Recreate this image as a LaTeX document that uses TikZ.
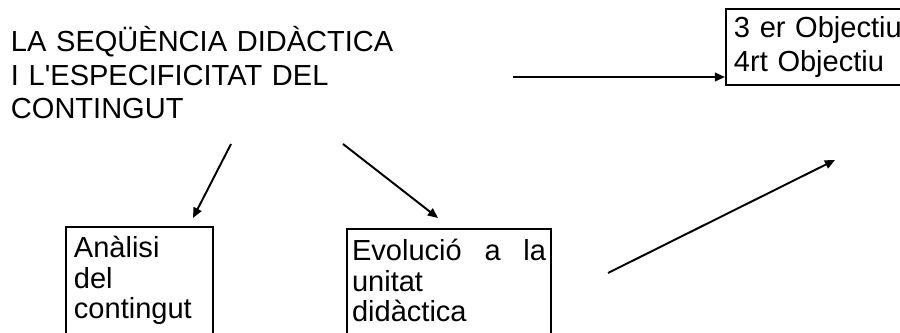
\documentclass[tikz,border=0pt]{standalone}
\usepackage{fontspec}
\newfontfamily\arial{Liberation Sans}
\usetikzlibrary{arrows.meta}
\begin{document}
\begin{tikzpicture}[>={Triangle[length=4.2pt,width=3.6pt]},x=0.41333pt,y=-0.41333pt,line width=0.8pt,
	caixa/.style={draw,anchor=base west,align=left,inner ysep=0pt},
	font=\arial\fontsize{12}{12.5}\selectfont]
	\useasboundingbox (0,0) rectangle (900,333);
	\clip (0,0) rectangle (900,333);
	\node[anchor=base west,align=left,inner sep=0pt,text width=165pt,font=\arial\fontsize{12}{13.8}\selectfont] (tema) at (10,52)
		{LA SEQÜÈNCIA DIDÀCTICA\\I L'ESPECIFICITAT DEL\\CONTINGUT};
	\node[caixa,text width=54.1pt,inner xsep=3.3pt,text height=12.8pt,text depth=42pt] (analisi) at (65,258)
		{Anàlisi\\del\\contingut};
	\node[caixa,text width=80.2pt,inner xsep=2.1pt,text height=13.2pt,text depth=42pt] (evolucio) at (346,261)
		{Evolució\hfill a\hfill la\\unitat\\didàctica};
	\node[caixa,text width=74.4pt,inner xsep=3.3pt,text height=12pt,text depth=19.4pt,font=\arial\fontsize{12}{14}\selectfont] (objectius) at (725,38)
		{3 er Objectiu\\4rt Objectiu};
	\path (513,77) coordinate (h)
		(231,144) coordinate (p1) (193,218) coordinate (q1)
		(343,144) coordinate (p2) (438,218) coordinate (q2)
		(608,273) coordinate (p3) (835,160) coordinate (q3);
	\draw[->] (h) -- (h -| objectius.west);
	\foreach \a/\b in {p1/q1,p2/q2,p3/q3} \draw[->] (\a) -- (\b);
\end{tikzpicture}
\end{document}
